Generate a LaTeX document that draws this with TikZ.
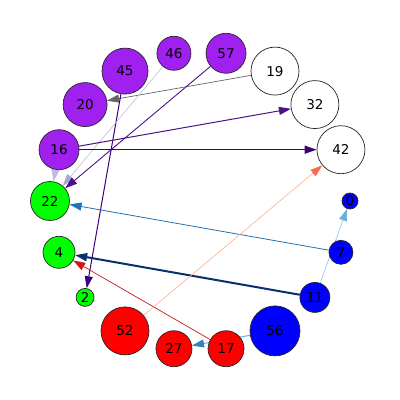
\documentclass[tikz,border=0pt]{standalone}
\usepackage{fontspec}
\setmainfont{DejaVu Sans}
\usetikzlibrary{arrows.meta,backgrounds}
\definecolor{npurple}{HTML}{A020F0}
\definecolor{ngreen}{HTML}{00FF00}
\definecolor{nblue}{HTML}{0000FF}
\definecolor{nred}{HTML}{FF0000}
\definecolor{indA}{HTML}{3F007D}
\definecolor{indB}{HTML}{4A1486}
\definecolor{lav}{HTML}{BCBDDC}
\definecolor{lavD}{HTML}{A9A6D2}
\definecolor{bluM}{HTML}{2171B5}
\definecolor{navy}{HTML}{08306B}
\definecolor{redM}{HTML}{CB181D}
\definecolor{salL}{HTML}{FCAE91}
\definecolor{tom}{HTML}{FB6A4A}
\definecolor{bluL}{HTML}{9ECAE1}
\definecolor{bluA}{HTML}{6BAED6}
\definecolor{bluS}{HTML}{3182BD}
\definecolor{grayE}{HTML}{666666}
\tikzset{
  vtx/.style={circle,draw=black!85,line width=0.7pt,inner sep=0pt,
    font=\fontsize{13.5}{14}\selectfont},
  edg/.style={line width=#1,-{Triangle[length=12pt,width=8pt]}},
  edg/.default=0.8pt
}
\begin{document}
\begin{tikzpicture}[x=1pt,y=1pt]
\useasboundingbox (-200,-199) rectangle (200,201);
\node[vtx,fill=nblue,minimum size=16pt] (n0) at (0:150) {0};
\node[vtx,fill=white,minimum size=48pt] (n42) at (20:150) {42};
\node[vtx,fill=white,minimum size=48pt] (n32) at (40:150) {32};
\node[vtx,fill=white,minimum size=48pt] (n19) at (60:150) {19};
\node[vtx,fill=npurple,minimum size=40pt] (n57) at (80:150) {57};
\node[vtx,fill=npurple,minimum size=34pt] (n46) at (100:150) {46};
\node[vtx,fill=npurple,minimum size=46pt] (n45) at (120:150) {45};
\node[vtx,fill=npurple,minimum size=44pt] (n20) at (140:150) {20};
\node[vtx,fill=npurple,minimum size=40pt] (n16) at (160:150) {16};
\node[vtx,fill=ngreen,minimum size=39pt] (n22) at (180:150) {22};
\node[vtx,fill=ngreen,minimum size=32pt] (n4) at (200:150) {4};
\node[vtx,fill=ngreen,minimum size=18pt] (n2) at (220:150) {2};
\node[vtx,fill=nred,minimum size=48pt] (n52) at (240:150) {52};
\node[vtx,fill=nred,minimum size=36pt] (n27) at (260:150) {27};
\node[vtx,fill=nred,minimum size=36pt] (n17) at (280:150) {17};
\node[vtx,fill=nblue,minimum size=50pt] (n56) at (300:150) {56};
\node[vtx,fill=nblue,minimum size=30pt] (n11) at (320:150) {11};
\node[vtx,fill=nblue,minimum size=24pt] (n7) at (340:150) {7};
\begin{scope}[on background layer]
\draw[edg=0.7pt,grayE] (n19) -- (n20);
\draw[edg=1pt,indA] (n45) -- (n2);
\draw[edg=0.6pt,lav,-{Triangle[length=12pt,width=8pt,color=lavD]}] (n46) -- (n22);
\draw[edg=0.9pt,indB] (n57) -- (n22);
\draw[edg=1pt,indB] (n16) -- (n32);
\draw[edg=1.5pt,indA] (n16) -- (n42);
\draw[edg=1pt,lav] (n16) -- (n22);
\draw[edg=0.8pt,bluM] (n7) -- (n22);
\draw[edg=2pt,navy] (n11) -- (n4);
\draw[edg=0.7pt,redM] (n17) -- (n4);
\draw[edg=0.6pt,salL,-{Triangle[length=12pt,width=8pt,color=tom]}] (n52) -- (n42);
\draw[edg=0.7pt,bluL,-{Triangle[length=12pt,width=8pt,color=bluA]}] (n11) -- (n0);
\draw[edg=1pt,bluA,-{Triangle[length=12pt,width=8pt,color=bluS]}] (n56) -- (n27);
\end{scope}
\end{tikzpicture}
\end{document}
